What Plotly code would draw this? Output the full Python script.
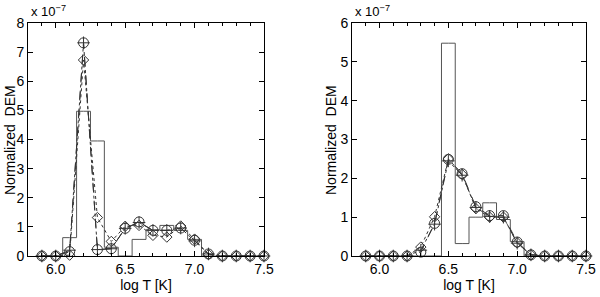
import plotly.graph_objects as go

logT = [5.9, 6.0, 6.1, 6.2, 6.3, 6.4, 6.5, 6.6, 6.7, 6.8, 6.9, 7.0, 7.1, 7.2, 7.3, 7.4, 7.5]

# left panel (units of 1e-7)
hist_left = [0, 0, 0.63, 4.97, 3.95, 0.3, 0.0, 0.57, 0.9, 1.05, 0.88, 0.57, 0, 0, 0, 0, 0]
circ_left = [0, 0, 0.15, 7.32, 0.22, 0.25, 0.95, 1.17, 0.88, 0.88, 0.96, 0.54, 0.07, 0, 0, 0, 0]
plus_left = [0, 0, 0.2, 7.32, 0.22, 0.25, 0.95, 1.15, 0.88, 0.88, 0.96, 0.52, 0.07, 0, 0, 0, 0]
diam_left = [0, 0, 0.03, 6.73, 1.32, 0.5, 1.02, 1.05, 0.71, 0.65, 1.03, 0.58, 0.05, 0, 0, 0, 0]

# right panel (units of 1e-7)
hist_right = [0, 0, 0, 0, 0, 0, 5.48, 0.32, 1.0, 1.37, 0.94, 0.37, 0, 0, 0, 0, 0]
circ_right = [0, 0, 0, 0, 0.1, 0.84, 2.49, 2.12, 1.27, 1.04, 1.04, 0.36, 0.03, 0, 0, 0, 0]
plus_right = [0, 0, 0, 0, 0.15, 0.82, 2.45, 2.08, 1.25, 1.02, 1.0, 0.33, 0.03, 0, 0, 0, 0]
diam_right = [0, 0, 0, 0, 0.23, 1.01, 2.5, 2.1, 1.22, 1.0, 1.0, 0.34, 0.03, 0, 0, 0, 0]

xticks = [6.0, 6.5, 7.0, 7.5]
xticklabels = ["6.0", "6.5", "7.0", "7.5"]
FONT = "Liberation Sans, Arial, sans-serif"
MK = "#333333"

fig = go.Figure()

panels = [
    ("x", "y", hist_left, circ_left, plus_left, diam_left),
    ("x2", "y2", hist_right, circ_right, plus_right, diam_right),
]
for xa, ya, h, c, p, d in panels:
    fig.add_trace(go.Scatter(x=logT, y=h, xaxis=xa, yaxis=ya, mode="lines",
                             line=dict(color="#555555", width=1, shape="hvh"),
                             showlegend=False, cliponaxis=False))
    fig.add_trace(go.Scatter(x=logT, y=c, xaxis=xa, yaxis=ya, mode="lines+markers",
                             line=dict(color=MK, width=1, dash="dash"),
                             marker=dict(symbol="circle-open", size=10, color=MK,
                                         line=dict(width=1)),
                             showlegend=False, cliponaxis=False))
    fig.add_trace(go.Scatter(x=logT, y=p, xaxis=xa, yaxis=ya, mode="lines+markers",
                             line=dict(color=MK, width=1, dash="dashdot"),
                             marker=dict(symbol="cross-thin-open", size=9, color=MK,
                                         line=dict(width=1, color=MK)),
                             showlegend=False, cliponaxis=False))
    fig.add_trace(go.Scatter(x=logT, y=d, xaxis=xa, yaxis=ya, mode="lines+markers",
                             line=dict(color=MK, width=1, dash="dot"),
                             marker=dict(symbol="diamond-open", size=8, color=MK,
                                         line=dict(width=1)),
                             showlegend=False, cliponaxis=False))

xcommon = dict(range=[5.8, 7.5], tickvals=xticks, ticktext=xticklabels,
               ticks="inside", ticklen=5, tickcolor="black", showgrid=False,
               zeroline=False, showline=True, linecolor="black", linewidth=1,
               mirror="allticks", automargin=False,
               minor=dict(dtick=0.1, ticks="inside", ticklen=3, tickcolor="black", showgrid=False),
               tickfont=dict(family=FONT, size=14, color="black"),
               title=dict(text="log T [K]", font=dict(family=FONT, size=14, color="black"),
                          standoff=0))
ycommon = dict(ticks="inside", ticklen=5, tickcolor="black", showgrid=False,
               zeroline=False, showline=True, linecolor="black", linewidth=1,
               mirror="allticks", dtick=1, automargin=False,
               tickfont=dict(family=FONT, size=14, color="black"))

ybot = 1 - 256 / 297
ytop = 1 - 23 / 297
fig.update_layout(
    width=600, height=297,
    margin=dict(l=0, r=0, t=0, b=0, autoexpand=False),
    paper_bgcolor="white", plot_bgcolor="white",
    xaxis=dict(domain=[28 / 600, 264 / 600], anchor="y", **xcommon),
    yaxis=dict(domain=[ybot, ytop], anchor="x", range=[0, 8], **ycommon),
    xaxis2=dict(domain=[352 / 600, 586 / 600], anchor="y2", **xcommon),
    yaxis2=dict(domain=[ybot, ytop], anchor="x2", range=[0, 6], **ycommon),
)

for xc, xl in [(10, 29), (331, 353)]:
    fig.add_annotation(text="Normalized  DEM", x=xc / 600, y=(1 - 140 / 297),
                       xref="paper", yref="paper", textangle=-90, showarrow=False,
                       xanchor="center", yanchor="middle",
                       font=dict(family=FONT, size=14, color="black"))
    fig.add_annotation(text="x 10<sup>−7</sup>", x=xl / 600, y=1 - 1 / 297,
                       xref="paper", yref="paper", xanchor="left", yanchor="top",
                       showarrow=False, font=dict(family=FONT, size=13, color="black"))

fig.write_html("out.html",
               config={"displayModeBar": False},
               post_script="document.body.style.margin='0';document.body.style.overflow='hidden';")
